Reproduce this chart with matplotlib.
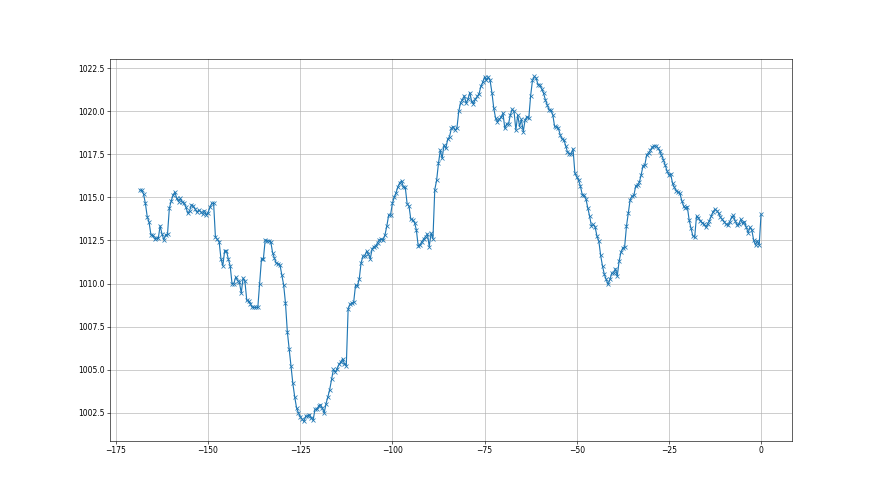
import numpy as np
import matplotlib
matplotlib.use("Agg")
import matplotlib.pyplot as plt

# Pressure readings (hPa), roughly half-hourly, ending at hour 0
seg_a = [1015.43, 1015.40, 1015.19, 1014.65, 1013.88, 1013.56, 1012.83, 1012.79, 1012.60, 1012.63, 1012.63,
         1013.35, 1012.88, 1012.54, 1012.83, 1012.87, 1014.37, 1014.79, 1015.13, 1015.31, 1014.94,
         1014.75, 1014.94, 1014.71, 1014.69, 1014.42, 1014.08, 1014.23, 1014.56, 1014.50, 1014.31,
         1014.13, 1014.27, 1014.17, 1014.04, 1014.23, 1013.98, 1014.12, 1014.42, 1014.65, 1014.67]
seg_b = [1012.69, 1012.57, 1012.44, 1011.44, 1011.03, 1011.90, 1011.90, 1011.42, 1011.03, 1010.00,
         1010.00, 1010.38, 1010.18, 1010.09, 1009.45, 1010.32, 1010.13, 1009.03, 1008.97, 1008.83,
         1008.62, 1008.62, 1008.62, 1008.62, 1010.00, 1011.45, 1011.42, 1012.53, 1012.48, 1012.48,
         1012.44, 1011.80, 1011.47, 1011.18, 1011.15, 1011.09, 1010.51, 1009.93, 1008.87, 1007.22,
         1006.21, 1005.25, 1004.21, 1003.44, 1002.80, 1002.51, 1002.28, 1002.15, 1002.01, 1002.32,
         1002.32, 1002.40, 1002.23, 1002.07, 1002.71, 1002.71, 1002.90]
seg_c = [1002.98, 1002.79, 1002.50, 1003.04, 1003.43, 1003.86, 1004.44, 1005.02, 1004.86,
         1005.06, 1005.31, 1005.45, 1005.64, 1005.35, 1005.25, 1008.55, 1008.80, 1008.86, 1008.93,
         1009.90, 1009.86, 1010.25]
seg_d = [1011.19, 1011.58, 1011.62, 1011.87, 1011.71, 1011.44, 1012.00, 1012.15, 1012.19,
         1012.38, 1012.54, 1012.58, 1012.54, 1012.83, 1013.35, 1013.98, 1013.98, 1014.65, 1015.00,
         1015.27, 1015.62, 1015.85, 1015.96, 1015.58, 1015.58, 1014.62, 1014.50, 1013.73, 1013.69,
         1013.54, 1013.12, 1012.19, 1012.25, 1012.44, 1012.58, 1012.73, 1012.88, 1012.15, 1012.92,
         1012.60]
seg_e = [1015.45, 1015.99, 1016.97, 1017.74, 1017.26, 1018.03, 1017.84, 1018.36, 1018.52, 1019.00,
         1019.10, 1018.90, 1019.00, 1019.98, 1020.50, 1020.66, 1020.89, 1020.46, 1020.69, 1021.08,
         1020.56, 1020.42, 1020.69, 1020.85, 1021.00, 1021.43, 1021.67, 1021.98, 1021.78, 1021.98,
         1021.78, 1021.08, 1020.17, 1019.59, 1019.39, 1019.53, 1019.65, 1019.88, 1019.00, 1019.26,
         1019.26, 1019.78, 1020.11, 1019.98, 1018.90, 1019.78, 1019.10, 1019.53, 1018.81, 1019.49,
         1019.68, 1019.59, 1020.89, 1021.78, 1022.01, 1021.92, 1021.53, 1021.53, 1021.28, 1021.04,
         1020.66, 1020.36, 1020.07]
seg_f = [1020.05, 1019.80, 1019.12, 1019.08, 1019.03, 1018.64, 1018.39, 1018.35, 1018.00, 1017.62,
         1017.54, 1017.54, 1017.81, 1016.42, 1016.19, 1015.99, 1015.65, 1015.16, 1015.11, 1014.91,
         1014.39, 1013.91, 1013.33, 1013.43, 1013.27, 1012.75, 1012.46, 1011.63, 1011.01, 1010.53,
         1010.24, 1009.95, 1010.24, 1010.59, 1010.63, 1010.86, 1010.43, 1011.30, 1011.82, 1012.07,
         1012.13, 1013.33, 1014.10, 1014.87, 1015.07, 1015.11, 1015.65, 1015.74, 1015.88, 1016.32,
         1016.84, 1016.90, 1017.48, 1017.58]
seg_g = [1017.73, 1017.92, 1017.98, 1017.98, 1017.88, 1017.69, 1017.44, 1017.19, 1016.87, 1016.54,
         1016.29, 1016.35, 1015.81, 1015.58, 1015.38, 1015.31, 1015.23, 1014.81, 1014.50, 1014.37,
         1014.46, 1013.69, 1013.21, 1012.77, 1012.69, 1013.92, 1013.79, 1013.65, 1013.54, 1013.46,
         1013.27, 1013.46, 1013.65, 1013.92, 1014.17, 1014.31, 1014.23, 1014.08]
seg_h = [1013.84, 1013.72, 1013.59, 1013.45, 1013.37, 1013.59, 1013.84, 1013.95, 1013.64, 1013.39,
         1013.45, 1013.72, 1013.49, 1013.59, 1013.26, 1012.95, 1013.26, 1013.10, 1012.52, 1012.23,
         1012.48, 1012.23, 1014.01]

pressure = seg_a + seg_b + seg_c + seg_d + seg_e + seg_f + seg_g + seg_h
step_hours = 0.5
hours = (np.arange(len(pressure)) - (len(pressure) - 1)) * step_hours

fig, ax = plt.subplots(figsize=(16, 9), dpi=55)
ax.plot(hours, pressure, marker="x", color="tab:blue", linewidth=1.5, markersize=6)
ax.grid(True)
ax.set_xlim(-176.6, 8.4)
ax.set_ylim(1000.9, 1023.0)
fig.savefig("out.png", dpi=55)
